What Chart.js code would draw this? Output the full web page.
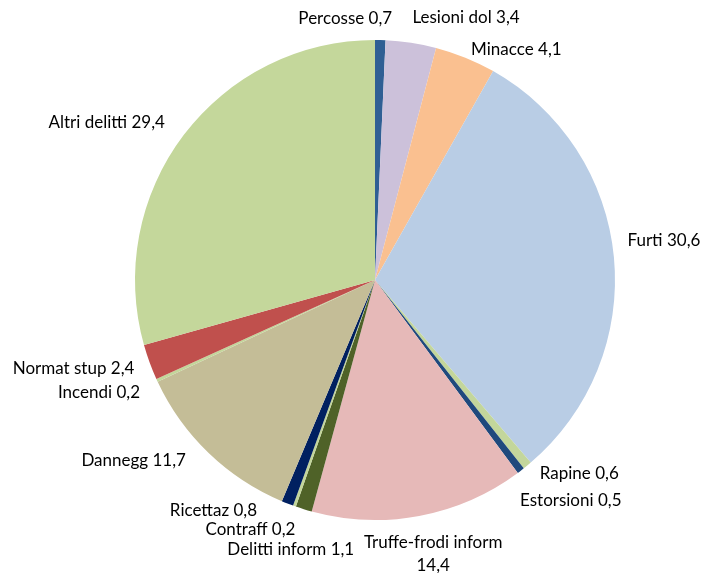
<!DOCTYPE html>
<html>
<head>
<meta charset="utf-8">
<script src="https://cdn.jsdelivr.net/npm/chart.js@4/dist/chart.umd.min.js"></script>
<style>
html,body{margin:0;padding:0;background:#fff;}
#c{display:block;}
</style>
</head>
<body>
<canvas id="c" width="702" height="573"></canvas>
<script>
const categories = ["Percosse","Lesioni dol","Minacce","Furti","Rapine","Estorsioni","Truffe-frodi inform","Delitti inform","Contraff","Ricettaz","Dannegg","Incendi","Normat stup","Altri delitti"];
const values = [0.7,3.4,4.1,30.6,0.6,0.5,14.4,1.1,0.2,0.8,11.7,0.2,2.4,29.4];
const valueLabels = ["0,7","3,4","4,1","30,6","0,6","0,5","14,4","1,1","0,2","0,8","11,7","0,2","2,4","29,4"];

const colors = ["#2F5F94","#CCC1DA","#FAC090","#B9CDE5","#C3D69B","#1F497D","#E6B9B8","#4F6228","#C3D69B","#002060","#C4BD97","#C3D69B","#C0504D","#C4D79B"];
// label placement nudges (px) from the slice's outer-edge midpoint
const labelNudges = [[-35,-22],[55,-25],[51,-8],[50,-17],[52,8],[50,30],[14,38],[-13,40],[-44,23],[-74,7],[-75,8],[-58,12],[-76,6],[-77,-13]];
const twoLine = {6:true};

const labelPlugin = {
  id: 'outsideLabels',
  afterDatasetsDraw(chart) {
    const ctx = chart.ctx;
    const meta = chart.getDatasetMeta(0);
    ctx.save();
    ctx.font = '17px Lato';
    ctx.fillStyle = '#000';
    ctx.textAlign = 'center';
    ctx.textBaseline = 'middle';
    meta.data.forEach((arc, i) => {
      const p = arc.getProps(['startAngle','endAngle','outerRadius','x','y'], true);
      const mid = (p.startAngle + p.endAngle) / 2;
      const px = p.x + Math.cos(mid) * p.outerRadius + labelNudges[i][0];
      const py = p.y + Math.sin(mid) * p.outerRadius + labelNudges[i][1];
      if (twoLine[i]) {
        ctx.fillText(categories[i], px, py - 11.5);
        ctx.fillText(valueLabels[i], px, py + 11.5);
      } else {
        ctx.fillText(categories[i] + ' ' + valueLabels[i], px, py);
      }
    });
    ctx.restore();
  }
};

new Chart(document.getElementById('c'), {
  type: 'pie',
  data: {
    labels: categories,
    datasets: [{
      data: values,
      backgroundColor: colors,
      borderWidth: 0
    }]
  },
  options: {
    responsive: false,
    animation: false,
    layout: { padding: { left: 100, right: 52, top: 40, bottom: 53 } },
    plugins: { legend: { display: false }, tooltip: { enabled: false } }
  },
  plugins: [labelPlugin]
});
</script>
</body>
</html>
